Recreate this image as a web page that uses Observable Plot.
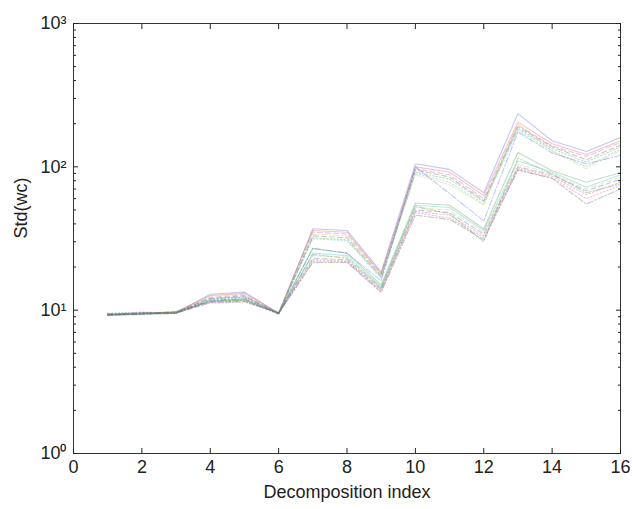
<!DOCTYPE html>
<html>
<head>
<meta charset="utf-8">
<script src="https://cdn.jsdelivr.net/npm/d3@7"></script>
<script src="https://cdn.jsdelivr.net/npm/@observablehq/plot@0.6"></script>
<style>
  html, body { margin: 0; padding: 0; background: #fff; }
</style>
</head>
<body>
<div id="chart"></div>
<script>
// Decomposition index (x) values
const decompositionIndex = [1, 2, 3, 4, 5, 6, 7, 8, 9, 10, 11, 12, 13, 14, 15, 16];

// Std(wc) curves, one per run
const upper1 = [9.3, 9.4, 9.6, 12.9, 13.4, 9.5, 37, 36, 18.5, 105, 96, 66, 235, 152, 128, 160];
const upper2 = [9.2, 9.5, 9.7, 12.6, 13.1, 9.6, 36, 35, 18, 100, 92, 63, 205, 145, 122, 152];
const upper3 = [9.4, 9.6, 9.5, 12.3, 12.8, 9.5, 35, 34, 17.8, 97, 88, 60, 195, 140, 118, 148];
const upper4 = [9.3, 9.4, 9.8, 12.1, 12.6, 9.4, 33, 32, 17.2, 95, 85, 58, 190, 138, 112, 142];
const upper5 = [9.5, 9.7, 9.6, 11.9, 12.3, 9.6, 32, 31, 17, 92, 82, 57, 185, 134, 108, 138];
const upper6 = [9.2, 9.3, 9.5, 11.7, 12.1, 9.5, 31.5, 30.5, 16.6, 90, 78, 55, 180, 130, 100, 133];
const upper7 = [9.4, 9.5, 9.7, 12.7, 13.2, 9.5, 34, 33, 17.5, 88, 75, 54, 200, 128, 97, 130];
const cross1 = [9.3, 9.6, 9.6, 12.0, 12.4, 9.5, 27, 25, 16, 100, 65, 42, 175, 125, 105, 120];
const lower1 = [9.2, 9.4, 9.5, 11.6, 11.9, 9.5, 27, 25, 15, 56, 54, 37, 126, 94, 78, 91];
const lower2 = [9.3, 9.5, 9.6, 11.5, 11.8, 9.4, 25, 24, 14.6, 54, 52, 36, 110, 92, 72, 88];
const lower3 = [9.4, 9.3, 9.7, 11.4, 11.7, 9.5, 24, 23.5, 14.2, 52, 50, 35, 104, 90, 70, 85];
const lower4 = [9.2, 9.4, 9.5, 11.3, 11.5, 9.6, 23, 22.5, 14, 50, 48, 34, 100, 88, 68, 82];
const lower5 = [9.3, 9.6, 9.6, 11.2, 11.4, 9.5, 22.5, 22, 13.8, 49, 46, 33, 98, 86, 64, 78];
const lower6 = [9.5, 9.5, 9.8, 11.4, 11.6, 9.4, 22, 21.8, 13.5, 48, 44, 32, 96, 84, 60, 74];
const lower7 = [9.3, 9.4, 9.6, 11.7, 12.0, 9.5, 21.5, 21.5, 13.3, 46, 43, 31, 95, 83, 55, 70];
const lower8 = [9.4, 9.5, 9.7, 11.5, 11.7, 9.5, 24.5, 23, 14.4, 53, 47, 30, 115, 89, 66, 76];

const allSeries = [upper1, lower1, upper2, lower2, upper3, lower3, upper4, lower4,
                   upper5, lower5, upper6, lower6, upper7, lower7, cross1, lower8];

// Axis ticks
const xTicks = [0, 2, 4, 6, 8, 10, 12, 14, 16];
const yMajorTicks = [1, 10, 100, 1000];
const yMinorTicks = [2,3,4,5,6,7,8,9,20,30,40,50,60,70,80,90,200,300,400,500,600,700,800,900];

// Build tidy table
const rows = [];
allSeries.forEach((vals, s) => {
  vals.forEach((v, i) => rows.push({series: s, x: decompositionIndex[i], y: v}));
});

const palette = ["#4a5adf", "#3f9a4a", "#e0504a", "#3fb8b8", "#bb4fbb", "#c8c840", "#555555"];
const dashes = [null, "5,3", "1.5,2", "6,2,1.5,2"];

const sup = {0: "\u2070", 1: "\u00b9", 2: "\u00b2", 3: "\u00b3"};

const lineMarks = allSeries.map((_, s) =>
  Plot.line(rows.filter(r => r.series === s), {
    x: "x", y: "y",
    stroke: palette[s % 7],
    strokeOpacity: 0.33,
    strokeWidth: 1.1,
    strokeDasharray: dashes[Math.floor(s / 4) % 4]
  })
);

const chart = Plot.plot({
  width: 632,
  height: 509,
  marginLeft: 73,
  marginRight: 12,
  marginTop: 23,
  marginBottom: 56,
  style: {fontFamily: "'Liberation Sans', Arial, Helvetica, sans-serif", fontSize: "18px", color: "#222", background: "#fff"},
  x: {domain: [0, 16]},
  y: {type: "log", domain: [1, 1000]},
  marks: [
    ...lineMarks,
    Plot.frame({stroke: "#333", strokeWidth: 1}),
    Plot.axisX(xTicks, {anchor: "bottom", tickSize: -5, tickPadding: 12, label: null, tickFormat: d => String(d), fontSize: 18}),
    Plot.axisX(xTicks, {anchor: "top", tickSize: -5, tickPadding: 0, label: null, tickFormat: () => ""}),
    Plot.axisY(yMajorTicks, {anchor: "left", tickSize: -5, tickPadding: 12, label: null, tickFormat: d => "10" + sup[Math.round(Math.log10(d))], fontSize: 18}),
    Plot.axisY(yMajorTicks, {anchor: "right", tickSize: -5, tickPadding: 0, label: null, tickFormat: () => ""}),
    Plot.axisY(yMinorTicks, {anchor: "left", tickSize: -3, tickPadding: 0, label: null, tickFormat: () => ""}),
    Plot.axisY(yMinorTicks, {anchor: "right", tickSize: -3, tickPadding: 0, label: null, tickFormat: () => ""}),
    Plot.text(["Decomposition index"], {frameAnchor: "bottom", dy: 39, fontSize: 18, lineAnchor: "middle"}),
    Plot.text(["Std(wc)"], {frameAnchor: "left", dx: -52, rotate: -90, fontSize: 18, lineAnchor: "middle"})
  ]
});

document.getElementById("chart").appendChild(chart);
</script>
</body>
</html>
